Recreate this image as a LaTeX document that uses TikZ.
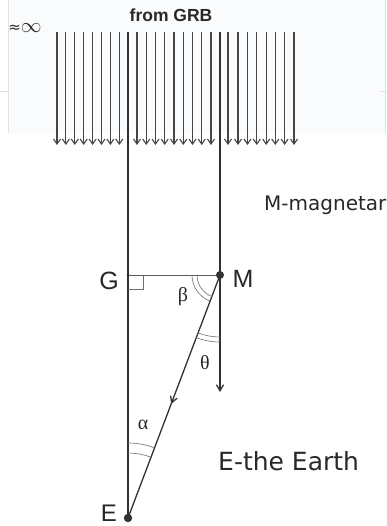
\documentclass[tikz,border=0pt]{standalone}
\usepackage{fontspec}
\setmainfont{Liberation Sans}
\newfontfamily\comicfont{DejaVu Sans}
\newfontfamily\greekfont{Liberation Serif}
\usetikzlibrary{arrows.meta,decorations.markings}
\definecolor{linegray}{RGB}{50,50,50}
\definecolor{raygray}{RGB}{70,70,70}
\definecolor{arcgray}{RGB}{110,110,110}
\definecolor{labgray}{RGB}{40,40,40}
\definecolor{panel}{RGB}{249,251,252}
\definecolor{edgegray}{RGB}{225,225,228}
\begin{document}
\begin{tikzpicture}[x=1pt,y=1pt,
  ray/.style={draw=raygray, line width=1.1pt, -{Straight Barb[length=5pt,width=7pt]}},
  mainline/.style={draw=linegray, line width=1.3pt},
  thinline/.style={draw=linegray!80, line width=0.9pt},
  arcline/.style={draw=arcgray, line width=0.6pt},
  edge/.style={draw=edgegray, line width=0.8pt},
  lbl/.style={font=\fontsize{25}{30}\selectfont, text=labgray, inner sep=0pt},
  greek/.style={font=\greekfont\fontsize{20}{24}\selectfont, text=labgray, inner sep=0pt},
  comic/.style={font=\comicfont\fontsize{20}{24}\selectfont, text=labgray, inner sep=0pt, anchor=base west},
  barb/.tip={Straight Barb[length=6pt,width=7pt]}]
\useasboundingbox (0,0) rectangle (387,526);
\fill[white] (0,0) rectangle (387,526);
\fill[panel] (8,393) rectangle (385,526);
\draw[edge] (8,393) -- (8,526);
\draw[edge] (385,393) -- (385,526);
\draw[edge] (0,435) -- (8,435);
\draw[edge] (380,435) -- (387,435);
% rays from GRB
\foreach \x [count=\i] in {57,65.9,74.8,83.7,92.6,101.5,110.4,119.3,
  137,146.25,155.5,164.75,174,183.25,192.5,201.75,211,
  228,238,247.5,256.8,266.2,275.3,284.6,294}{
  \coordinate (rt\i) at (\x,494);
  \coordinate (rb\i) at (\x,381);
  \draw[ray] (rt\i) -- (rb\i);
}
% geometry
\coordinate (Gtop) at (128,494);
\coordinate (Mtop) at (220,494);
\coordinate (Mend) at (220,134);
\coordinate (G) at (128,251);
\coordinate (M) at (220,251);
\coordinate (E) at (128,8);
\draw[mainline] (Gtop) -- (E);
\draw[mainline, -barb] (Mtop) -- (Mend);
\draw[thinline] (G) -- (M);
\draw[mainline, postaction={decorate},
  decoration={markings, mark=at position 0.53 with {\arrow{barb}}}] (M) -- (E);
% right angle
\draw[arcline] (G) ++(0,-14) -- ++(15,0) -- ++(0,14);
% angle arcs
\draw[arcline] (M) ++(180:23) arc[start angle=180, end angle=249.27, radius=23];
\draw[arcline] (M) ++(180:28) arc[start angle=180, end angle=249.27, radius=28];
\draw[arcline] (M) ++(249.27:62) arc[start angle=249.27, end angle=270, radius=62];
\draw[arcline] (M) ++(249.27:67) arc[start angle=249.27, end angle=270, radius=67];
\draw[arcline] (E) ++(69.27:65) arc[start angle=69.27, end angle=90, radius=65];
\draw[arcline] (E) ++(69.27:75) arc[start angle=69.27, end angle=90, radius=75];
% points
\fill[linegray] (M) circle (4);
\fill[linegray] (E) circle (4.2);
\fill[linegray] (G) circle (1.5);
% labels
\node[lbl] (Glbl) at (109,245.5) {G};
\node[lbl] (Mlbl) at (243,247) {M};
\node[lbl, font=\fontsize{24}{28}\selectfont] (Elbl) at (109,13) {E};
\node[greek] (beta) at (183,229) {β};
\node[greek] (theta) at (205,163) {θ};
\node[greek] (alpha) at (143,101) {α};
\node[font=\bfseries\fontsize{17.5}{20}\selectfont, text=labgray, inner sep=0pt] (grb) at (171,511) {from GRB};
\node[font=\fontsize{21}{24}\selectfont, text=labgray, inner sep=0pt] (inf) at (25,498) {{\comicfont\fontsize{15}{18}\selectfont ≈}$\infty$};
\node[comic] (mag) at (264,315) {M-magnetar};
\node[comic, font=\comicfont\fontsize{25}{30}\selectfont] (earth) at (218,55) {E-the Earth};
\end{tikzpicture}
\end{document}
